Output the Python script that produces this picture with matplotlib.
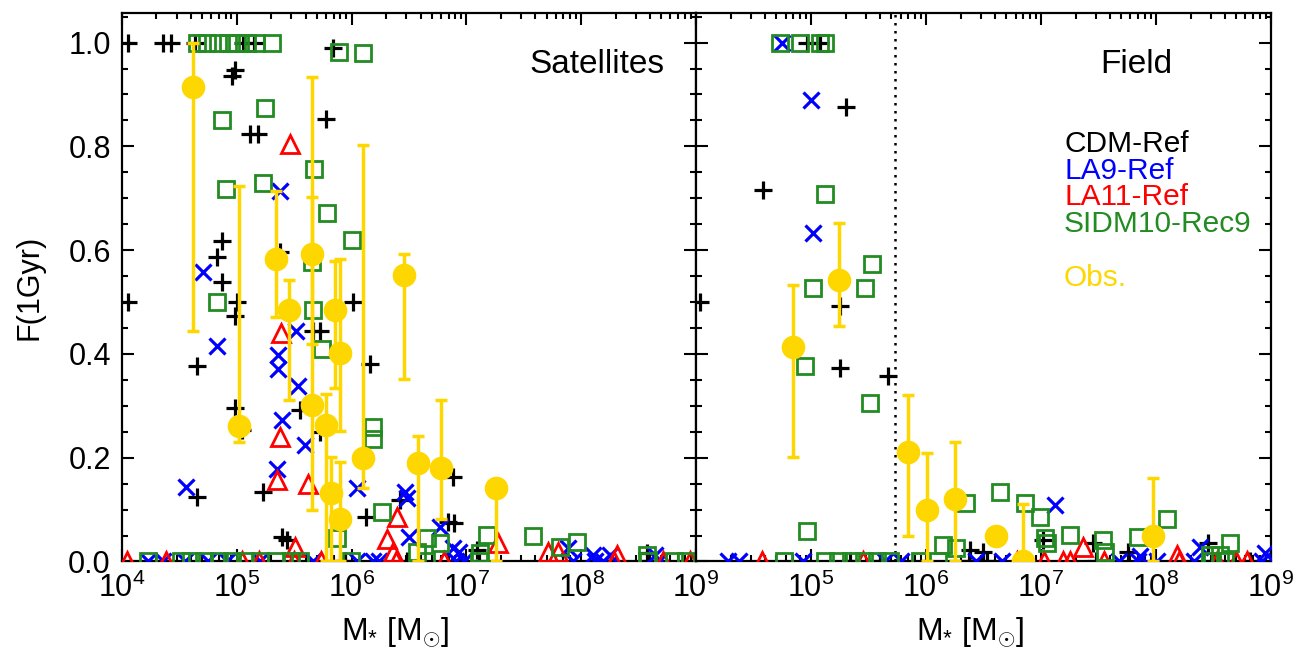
import numpy as np
import matplotlib
matplotlib.use("Agg")
import matplotlib.pyplot as plt
from matplotlib.ticker import FixedLocator, LogLocator, NullFormatter, MultipleLocator

plt.rcParams['font.family'] = ['Liberation Sans', 'DejaVu Sans']
plt.rcParams['mathtext.fontset'] = 'custom'
plt.rcParams['mathtext.rm'] = 'Liberation Sans'
plt.rcParams['mathtext.it'] = 'Liberation Sans:italic'
plt.rcParams['mathtext.bf'] = 'Liberation Sans:bold'

# ---------------- data (log10 M*, F(1Gyr)) ----------------
# Satellites panel
sat_cdm_logm = [4.055, 4.36, 4.43, 4.636, 5.057, 5.15, 5.84, 4.955, 4.984, 5.115, 5.187, 5.774,
                4.868, 4.825, 4.868, 5.376, 6.01, 4.055, 4.999, 4.984, 4.653, 5.664, 5.725,
                6.16, 4.984, 5.043, 5.55, 5.725, 4.653, 5.228, 5.394, 5.437, 6.125, 6.42, 6.883,
                6.84, 6.89, 7.09, 8.57,
                5.94, 6.48, 7.11, 8.58]
sat_cdm_f = [1.0, 1.0, 1.0, 1.0, 1.0, 1.0, 0.99, 0.935, 0.947, 0.823, 0.823, 0.852,
             0.617, 0.586, 0.538, 0.596, 0.50, 0.50, 0.50, 0.474, 0.376, 0.445, 0.445,
             0.381, 0.295, 0.253, 0.292, 0.25, 0.125, 0.133, 0.048, 0.041, 0.085, 0.118, 0.163,
             0.077, 0.075, 0.022, 0.016,
             0.0, 0.0, 0.0, 0.0]

sat_la9_logm = [4.706, 4.825, 4.557, 5.376, 5.361, 5.361, 5.515, 5.536, 5.391, 5.594, 5.347,
                6.044, 6.47, 6.485, 6.50, 6.77, 6.88, 6.94, 7.89, 8.105, 8.25, 8.64,
                4.223, 4.354, 4.551, 4.749, 4.912, 5.204, 5.667, 6.044, 6.19, 6.24, 6.91, 6.98,
                7.93, 8.125, 8.19, 8.68]
sat_la9_f = [0.557, 0.416, 0.144, 0.713, 0.397, 0.370, 0.445, 0.338, 0.272, 0.224, 0.179,
             0.142, 0.134, 0.122, 0.048, 0.067, 0.025, 0.019, 0.025, 0.013, 0.013, 0.013,
             0.0, 0.0, 0.0, 0.0, 0.0, 0.0, 0.0, 0.0, 0.0, 0.0, 0.0, 0.0,
             0.0, 0.0, 0.0, 0.0]

sat_la11_logm = [5.463, 5.39, 5.376, 5.35, 5.62, 5.507, 6.394, 6.31, 6.36, 7.275, 7.71, 7.80, 8.31,
                 4.044, 4.388, 5.043, 5.19, 5.50, 5.73, 6.387, 6.81, 8.29, 8.71, 8.95]
sat_la11_f = [0.805, 0.44, 0.24, 0.157, 0.149, 0.028, 0.086, 0.043, 0.019, 0.035, 0.019, 0.019, 0.012,
              0.0, 0.0, 0.0, 0.0, 0.0, 0.0, 0.0, 0.0, 0.0, 0.0, 0.0]

sat_sidm_logm = [4.653, 4.74, 4.84, 4.927, 5.0, 5.089, 5.167, 5.31,
                 5.89, 6.097, 4.868, 5.246, 5.675, 5.231, 4.906, 5.783, 6.006, 5.652, 4.825,
                 5.667, 5.74, 6.189, 6.189, 6.262, 5.87, 6.657, 6.77, 6.57, 7.118, 7.18, 7.58,
                 7.815, 7.96, 8.57,
                 4.223, 4.518, 4.60, 4.714, 4.845, 4.96, 5.076, 5.206, 5.338, 5.469, 5.55,
                 5.994, 6.648, 7.108, 8.583, 8.81, 8.916]
sat_sidm_f = [1.0, 1.0, 1.0, 1.0, 1.0, 1.0, 1.0, 1.0,
              0.982, 0.98, 0.851, 0.873, 0.756, 0.730, 0.718, 0.671, 0.62, 0.578, 0.50,
              0.484, 0.41, 0.26, 0.236, 0.096, 0.046, 0.045, 0.035, 0.019, 0.016, 0.051, 0.049,
              0.028, 0.038, 0.013,
              0.0, 0.0, 0.0, 0.0, 0.0, 0.0, 0.0, 0.0, 0.0, 0.0, 0.0,
              0.0, 0.0, 0.0, 0.0, 0.0, 0.0]

sat_obs_logm = [4.621, 5.022, 5.339, 5.457, 5.658, 5.658, 5.855, 5.899, 5.777, 5.818, 5.899,
                6.097, 6.459, 6.581, 6.779, 7.258]
sat_obs_f = [0.914, 0.261, 0.583, 0.484, 0.593, 0.302, 0.484, 0.402, 0.263, 0.131, 0.081,
             0.200, 0.552, 0.190, 0.181, 0.141]
sat_obs_lo = [0.445, 0.230, 0.472, 0.312, 0.420, 0.100, 0.334, 0.251, 0.0, 0.0, 0.0,
              0.141, 0.352, 0.0, 0.081, 0.0]
sat_obs_hi = [1.0, 0.724, 0.713, 0.543, 0.934, 0.703, 0.580, 0.583, 0.322, 0.2015, 0.192,
              0.803, 0.593, 0.241, 0.312, 0.141]

# Field panel
fld_cdm_logm = [4.035, 4.58, 4.963, 5.078, 5.304, 5.252, 5.252, 5.667, 6.383, 6.496, 7.017,
                7.452, 7.757, 8.452,
                5.339, 5.60, 6.37, 6.53, 7.48, 8.50, 8.82]
fld_cdm_f = [0.50, 0.716, 1.0, 1.0, 0.875, 0.493, 0.372, 0.357, 0.022, 0.019, 0.041,
             0.035, 0.019, 0.035,
             0.0, 0.0, 0.0, 0.0, 0.0, 0.0, 0.0]

fld_la9_logm = [4.745, 4.997, 5.015, 7.122, 8.383, 8.948, 7.86,
                4.275, 4.374, 4.93, 5.64, 5.78, 6.435, 6.66, 7.678, 7.843, 8.006, 8.33, 8.92]
fld_la9_f = [1.0, 0.889, 0.633, 0.109, 0.028, 0.016, 0.010,
             0.0, 0.0, 0.0, 0.0, 0.0, 0.0, 0.0, 0.0, 0.0, 0.0, 0.0, 0.0]

fld_la11_logm = [7.365, 8.183,
                 4.57, 5.452, 6.795, 7.024, 7.188, 7.252, 7.548, 8.20, 8.53, 8.693, 8.79]
fld_la11_f = [0.028, 0.012,
              0.0, 0.0, 0.0, 0.0, 0.0, 0.0, 0.0, 0.0, 0.0, 0.0, 0.0]

fld_sidm_logm = [4.73, 4.904, 5.078, 5.12, 5.122, 5.528, 5.02, 5.47, 4.948, 5.513, 4.968,
                 6.348, 6.15, 6.265, 6.643, 6.861, 6.991, 7.035, 7.049, 7.252, 7.542, 7.557,
                 7.846, 8.093, 8.643, 8.47, 8.56,
                 4.765, 5.122, 5.235, 5.348, 5.461, 5.574, 5.687, 5.944, 6.108, 8.487, 8.60]
fld_sidm_f = [1.0, 1.0, 1.0, 1.0, 0.708, 0.573, 0.527, 0.527, 0.376, 0.306, 0.059,
              0.112, 0.032, 0.025, 0.134, 0.112, 0.085, 0.045, 0.035, 0.051, 0.041, 0.019,
              0.048, 0.081, 0.035, 0.013, 0.013,
              0.0, 0.0, 0.0, 0.0, 0.0, 0.0, 0.0, 0.0, 0.0, 0.0, 0.0]

fld_obs_logm = [4.846, 5.246, 5.846, 6.011, 6.252, 6.609, 6.846, 7.971]
fld_obs_f = [0.413, 0.543, 0.211, 0.100, 0.120, 0.050, 0.0, 0.050]
fld_obs_lo = [0.2015, 0.453, 0.050, 0.0, 0.0, 0.050, 0.0, 0.0]
fld_obs_hi = [0.532, 0.653, 0.3215, 0.21, 0.230, 0.050, 0.11, 0.16]

field_cut_logm = 5.727

legend_names = ['CDM-Ref', 'LA9-Ref', 'LA11-Ref', 'SIDM10-Rec9']
legend_colors = ['black', 'blue', 'red', '#228B22']
obs_color = '#FFD700'

# ---------------- figure ----------------
fig = plt.figure(figsize=(13, 6.5), dpi=100)
axL = fig.add_axes([0.0938, 0.1362, 0.4415, 0.8438])
axR = fig.add_axes([0.5354, 0.1362, 0.4423, 0.8438])


def draw(ax, cdm, la9, la11, sidm, obs):
    m = lambda a: 10 ** np.asarray(a)
    ax.plot(m(cdm[0]), cdm[1], '+', color='black', ms=13, mew=2.3, ls='none', zorder=3)
    ax.plot(m(la9[0]), la9[1], 'x', color='blue', ms=12, mew=2.3, ls='none', zorder=3)
    ax.plot(m(la11[0]), la11[1], '^', color='red', ms=12.5, mew=2.0, mfc='none', ls='none', zorder=3)
    ax.plot(m(sidm[0]), sidm[1], 's', color='#228B22', ms=11.5, mew=2.0, mfc='none', ls='none', zorder=3)
    x = m(obs[0])
    y = np.asarray(obs[1])
    lo = np.asarray(obs[2])
    hi = np.asarray(obs[3])
    ax.errorbar(x, y, yerr=[y - lo, hi - y], fmt='o', color=obs_color, ms=16,
                elinewidth=2.5, capsize=4.5, capthick=2.5, zorder=4, ls='none')


draw(axL, (sat_cdm_logm, sat_cdm_f), (sat_la9_logm, sat_la9_f), (sat_la11_logm, sat_la11_f),
     (sat_sidm_logm, sat_sidm_f), (sat_obs_logm, sat_obs_f, sat_obs_lo, sat_obs_hi))
draw(axR, (fld_cdm_logm, fld_cdm_f), (fld_la9_logm, fld_la9_f), (fld_la11_logm, fld_la11_f),
     (fld_sidm_logm, fld_sidm_f), (fld_obs_logm, fld_obs_f, fld_obs_lo, fld_obs_hi))

axR.axvline(10 ** field_cut_logm, color='black', ls=(0, (1, 2.2)), lw=1.8, zorder=2)

major = [1e4, 1e5, 1e6, 1e7, 1e8, 1e9]
lab = [r'$10^{%d}$' % k for k in range(4, 10)]
for ax in (axL, axR):
    ax.set_xscale('log')
    ax.set_xlim(1e4, 1e9)
    ax.set_ylim(0, 1.057)
    ax.xaxis.set_major_locator(FixedLocator(major))
    ax.xaxis.set_minor_locator(LogLocator(base=10, subs=np.arange(2, 10), numticks=20))
    ax.xaxis.set_minor_formatter(NullFormatter())
    ax.yaxis.set_major_locator(MultipleLocator(0.2))
    ax.yaxis.set_minor_locator(MultipleLocator(0.05))
    ax.tick_params(which='both', direction='in', top=True, right=True, width=1.5)
    ax.tick_params(which='major', length=8.5, labelsize=22, pad=8)
    ax.tick_params(which='minor', length=4.5)
    for s in ax.spines.values():
        s.set_linewidth(1.6)

axL.set_xticklabels(lab)
axR.set_xticklabels([''] + lab[1:])
axL.set_yticks([0, 0.2, 0.4, 0.6, 0.8, 1.0])
axL.set_yticklabels(['0.0', '0.2', '0.4', '0.6', '0.8', '1.0'])
axR.set_yticklabels([])
axL.tick_params(axis='y', pad=8)

axL.text(0.946, 0.907, 'Satellites', transform=axL.transAxes, ha='right', va='center', fontsize=24)
axR.text(0.765, 0.907, 'Field', transform=axR.transAxes, ha='center', va='center', fontsize=24)

leg_y = [0.7616, 0.7125, 0.665, 0.6155]
for name, col, yy in zip(legend_names, legend_colors, leg_y):
    axR.text(0.64, yy, name, color=col, transform=axR.transAxes, ha='left', va='center', fontsize=21.5)
axR.text(0.64, 0.5173, 'Obs.', color=obs_color, transform=axR.transAxes, ha='left', va='center', fontsize=21.5)

fig.text(0.304, 0.028, r'M$_{*}$ [M$_{\odot}$]', ha='center', va='center', fontsize=23)
fig.text(0.746, 0.028, r'M$_{*}$ [M$_{\odot}$]', ha='center', va='center', fontsize=23)
fig.text(0.023, 0.558, 'F(1Gyr)', rotation=90, ha='center', va='center', fontsize=22)

fig.savefig('out.png', dpi=100)
